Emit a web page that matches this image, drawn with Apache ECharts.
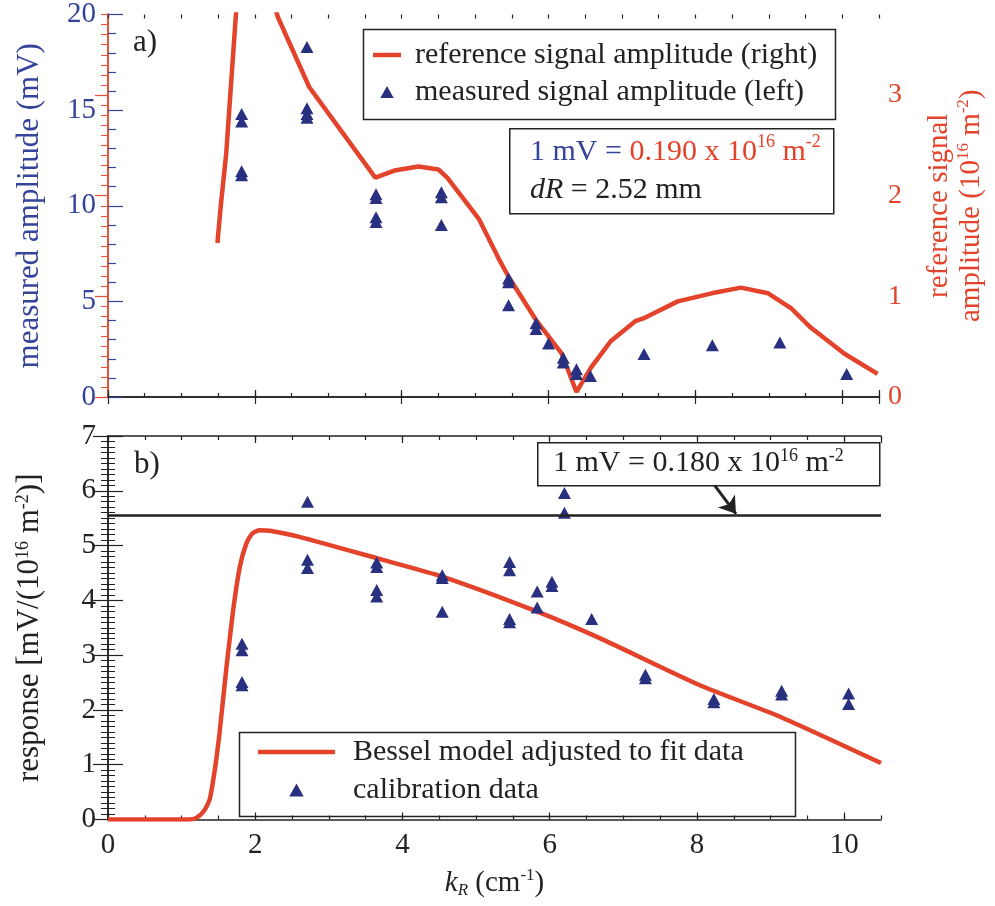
<!DOCTYPE html>
<html><head><meta charset="utf-8">
<script src="https://cdn.jsdelivr.net/npm/echarts@6/dist/echarts.min.js"></script>
<style>html,body{margin:0;padding:0;background:#fff}#c{width:995px;height:906px}</style>
</head><body><div id="c"></div>
<script>
// ---------- data ----------
// panel a) measured signal amplitude (mV, left axis)
const measuredK   = [1.82,1.82,1.82,1.82, 2.71,2.71,2.71,2.71, 3.65,3.65,3.65,3.65, 4.54,4.54,4.54, 5.455,5.455,5.455, 5.83,5.83, 6.0, 6.2,6.2, 6.38,6.38, 6.57, 7.3, 8.23, 9.15, 10.06];
const measuredAmp = [14.8,14.4,11.8,11.6, 18.3,15.1,14.8,14.6, 10.6,10.4,9.4,9.15, 10.7,10.45,9.0, 6.2,6.0,4.8, 3.85,3.55, 2.8, 2.05,1.8, 1.45,1.2, 1.1, 2.25, 2.7, 2.85, 1.2];
// panel a) reference signal amplitude (10^16 m^-2, right axis)
const refK   = [1.49,1.54,1.61,1.74,1.85,2.05,2.31,2.74,3.64,3.9,4.23,4.5,4.62,5.05,5.32,5.455,5.84,6.18,6.38,6.58,6.85,7.18,7.29,7.4,7.76,8.22,8.62,8.99,9.3,9.57,10.03,10.48];
const refAmp = [1.53,1.93,2.42,3.78,4.7,4.5,3.78,3.08,2.18,2.25,2.29,2.26,2.18,1.77,1.375,1.195,0.753,0.43,0.05,0.295,0.557,0.753,0.78,0.82,0.95,1.03,1.087,1.03,0.884,0.69,0.43,0.23];
// panel b) calibration data
const calK    = [1.82,1.82,1.82,1.82, 2.71,2.71,2.71, 3.65,3.65,3.65,3.65, 4.54,4.54,4.54, 5.455,5.455,5.455,5.455, 5.83,5.83, 6.03,6.03, 6.2,6.2, 6.57, 7.3,7.3, 8.23,8.23, 9.15,9.15, 10.06,10.06];
const calResp = [3.21,3.09,2.51,2.45, 5.8,4.74,4.59, 4.69,4.61,4.19,4.07, 4.46,4.41,3.79, 4.7,4.55,3.66,3.6, 4.16,3.87, 4.34,4.26, 5.96,5.6, 3.66, 2.64,2.58, 2.2,2.14, 2.35,2.28, 2.3,2.11];
// panel b) Bessel model
const besselK    = [0,1.1,1.2,1.3,1.38,1.45,1.515,1.61,1.70,1.79,1.88,1.96,2.06,2.2,2.6,3.65,4.55,5.84,6.68,8.04,9.12,10.5];
const besselResp = [0,0,0.03,0.15,0.36,0.9,1.58,2.79,3.82,4.61,5.04,5.22,5.28,5.27,5.16,4.77,4.43,3.79,3.31,2.45,1.88,1.03];
const calibLevel = 1 / 0.180;      // 1 mV = 0.180 x 10^16 m^-2
const arrowFrom = [8.24, 6.10];
const arrowTo   = [8.53, 5.58];
const xTicks = [0, 10.5];          // kR axis range
const leftTicks = [0, 20], rightTicks = [0, 3.8], respTicks = [0, 7];

// ---------- styling ----------
const FONT = 'Liberation Serif';
const RED = '#e2432a', NAVY = '#28307f', BLUE = '#34449a', RAXIS = '#e5533c', BLK = '#222';
const LINE_ICON = 'path://M0,0 H100 V16 H0 Z';
const TRI_ICON = 'path://M5,0 L10,9 L0,9 Z';
const zip = (a, b) => a.map((v, i) => [v, b[i]]);

function xAx(grid, pos, major, showLabel) {
  return {
    type: 'value', gridIndex: grid, position: pos, min: xTicks[0], max: xTicks[1],
    interval: major ? 2 : 0.5,
    axisLine: { show: major, lineStyle: { color: BLK, width: 1.5 } },
    axisTick: { show: true, inside: true, length: major ? 7 : 4, lineStyle: { color: BLK, width: 1.2 } },
    axisLabel: { show: !!showLabel, showMaxLabel: false, fontFamily: FONT, fontSize: 29, color: BLK, margin: 11 },
    splitLine: { show: false }
  };
}

const option = {
  animation: false,
  backgroundColor: '#fff',
  grid: [
    { left: 108, top: 10, width: 773, height: 387 },
    { left: 108, top: 436, width: 773, height: 383.5 }
  ],
  xAxis: [
    xAx(0, 'bottom', true), xAx(0, 'bottom', false), xAx(0, 'top', true), xAx(0, 'top', false),
    Object.assign(xAx(1, 'bottom', true, true), {
      name: '{i|k}{sub|R}{t| (cm}{sup|-1}{t|)}', nameLocation: 'middle', nameGap: 48,
      nameTextStyle: { fontFamily: FONT, fontSize: 29, color: BLK, rich: {
        i: { fontFamily: FONT, fontSize: 29, fontStyle: 'italic', lineHeight: 32 },
        sub: { fontFamily: FONT, fontSize: 17, fontStyle: 'italic', lineHeight: 12, verticalAlign: 'bottom' },
        t: { fontFamily: FONT, fontSize: 29, lineHeight: 32 },
        sup: { fontFamily: FONT, fontSize: 17, lineHeight: 14, verticalAlign: 'top' } } }
    }),
    xAx(1, 'bottom', false), xAx(1, 'top', true), xAx(1, 'top', false)
  ],
  yAxis: [
    { type: 'value', gridIndex: 0, position: 'left', min: leftTicks[0], max: leftTicks[1], interval: 5,
      axisLine: { show: true, lineStyle: { color: BLUE, width: 2 } },
      axisTick: { inside: true, length: 15, lineStyle: { color: BLUE, width: 1.2 } },
      minorTick: { show: true, splitNumber: 5, length: 8, lineStyle: { color: BLUE, width: 1.2 } },
      axisLabel: { fontFamily: FONT, fontSize: 29, color: BLUE, margin: 12 },
      splitLine: { show: false },
      name: 'measured amplitude (mV)', nameLocation: 'middle', nameRotate: 90, nameGap: 63,
      nameTextStyle: { fontFamily: FONT, fontSize: 31, color: BLUE } },
    { type: 'value', gridIndex: 0, position: 'right', min: rightTicks[0], max: rightTicks[1], interval: 1,
      axisLine: { show: true, lineStyle: { color: RAXIS, width: 2 } },
      axisTick: { inside: true, length: 13, lineStyle: { color: RAXIS, width: 1.2 } },
      axisLabel: { fontFamily: FONT, fontSize: 28, color: RED, margin: 9, showMaxLabel: false },
      splitLine: { show: false },
      name: 'reference signal\namplitude (10{sup|16} m{sup|-2})', nameLocation: 'middle', nameRotate: 90, nameGap: 44,
      nameTextStyle: { fontFamily: FONT, fontSize: 29, color: RED, lineHeight: 32, rich: {
        sup: { fontFamily: FONT, fontSize: 17, color: RED, lineHeight: 14, verticalAlign: 'top' } } } },
    { type: 'value', gridIndex: 0, position: 'right', min: rightTicks[0], max: rightTicks[1], interval: 0.1,
      axisLine: { show: false },
      axisTick: { inside: true, length: 7, lineStyle: { color: RAXIS, width: 1.1 } },
      axisLabel: { show: false }, splitLine: { show: false } },
    { type: 'value', gridIndex: 1, position: 'left', min: respTicks[0], max: respTicks[1], interval: 1,
      axisLine: { show: true, lineStyle: { color: BLK, width: 1.5 } },
      axisTick: { inside: true, length: 15, lineStyle: { color: BLK, width: 1.2 } },
      minorTick: { show: true, splitNumber: 10, length: 7, lineStyle: { color: BLK, width: 1 } },
      axisLabel: { fontFamily: FONT, fontSize: 29, color: BLK, margin: 12 },
      splitLine: { show: false },
      name: 'response [mV/(10{sup|16} m{sup|-2})]', nameLocation: 'middle', nameRotate: 90, nameGap: 63,
      nameTextStyle: { fontFamily: FONT, fontSize: 31, color: BLK, rich: {
        sup: { fontFamily: FONT, fontSize: 18, color: BLK, lineHeight: 14, verticalAlign: 'top' } } } },
    { type: 'value', gridIndex: 1, position: 'right', min: respTicks[0], max: respTicks[1], interval: 1,
      axisLine: { show: true, lineStyle: { color: BLK, width: 1.5 } },
      axisTick: { inside: true, length: 15, lineStyle: { color: BLK, width: 1.2 } },
      minorTick: { show: true, splitNumber: 10, length: 7, lineStyle: { color: BLK, width: 1 } },
      axisLabel: { show: false }, splitLine: { show: false } }
  ],
  legend: [
    { orient: 'vertical', left: 373, top: 40, itemWidth: 28, itemHeight: 12, itemGap: 7, padding: 0,
      selectedMode: false, symbolKeepAspect: true,
      textStyle: { fontFamily: FONT, fontSize: 30, lineHeight: 30, color: BLK, padding: [0, 0, 0, 9] },
      data: [{ name: 'reference signal amplitude (right)', icon: LINE_ICON },
             { name: 'measured signal amplitude (left)', icon: TRI_ICON }] },
    { orient: 'vertical', left: 258, top: 737, itemWidth: 77, itemHeight: 13, itemGap: 8, padding: 0,
      selectedMode: false, symbolKeepAspect: true,
      textStyle: { fontFamily: FONT, fontSize: 30, lineHeight: 30, color: BLK, padding: [0, 0, 0, 13] },
      data: [{ name: 'Bessel model adjusted to fit data', icon: 'path://M0,0 H100 V6 H0 Z' },
             { name: 'calibration data', icon: TRI_ICON }] }
  ],
  graphic: [
    { type: 'rect', left: 361, top: 27, z: 5, shape: { width: 472, height: 90 }, style: { fill: 'none', stroke: BLK, lineWidth: 1.5 } },
    { type: 'rect', left: 509, top: 128, z: 5, shape: { width: 324, height: 85 }, style: { fill: '#fff', stroke: BLK, lineWidth: 1.5 } },
    { type: 'text', left: 530, top: 133, z: 6, style: {
        text: '{b|1 mV = }{r|0.190 x 10}{rs|16}{r| m}{rs|-2}\n{i|dR}{k| = 2.52 mm}',
        rich: {
          b: { fontFamily: FONT, fontSize: 30, fill: BLUE, lineHeight: 38 },
          r: { fontFamily: FONT, fontSize: 30, fill: RED, lineHeight: 38 },
          rs: { fontFamily: FONT, fontSize: 18, fill: RED, lineHeight: 22, verticalAlign: 'top' },
          i: { fontFamily: FONT, fontSize: 30, fontStyle: 'italic', fill: BLK, lineHeight: 38 },
          k: { fontFamily: FONT, fontSize: 30, fill: BLK, lineHeight: 38 }
        } } },
    { type: 'rect', left: 237, top: 730, z: 5, shape: { width: 556, height: 84 }, style: { fill: 'none', stroke: BLK, lineWidth: 1.5 } },
    { type: 'rect', left: 537, top: 442, z: 5, shape: { width: 342, height: 43 }, style: { fill: '#fff', stroke: BLK, lineWidth: 1.5 } },
    { type: 'text', left: 553, top: 447, z: 6, style: {
        text: '{t|1 mV = 0.180 x 10}{s|16}{t| m}{s|-2}',
        rich: {
          t: { fontFamily: FONT, fontSize: 30, fill: BLK, lineHeight: 32 },
          s: { fontFamily: FONT, fontSize: 18, fill: BLK, lineHeight: 20, verticalAlign: 'top' }
        } } },
    { type: 'text', left: 133, top: 27, z: 6, style: { text: 'a)', fontFamily: FONT, fontSize: 31, fill: BLK } },
    { type: 'text', left: 134, top: 449, z: 6, style: { text: 'b)', fontFamily: FONT, fontSize: 31, fill: BLK } }
  ],
  series: [
    { name: 'reference signal amplitude (right)', type: 'line', xAxisIndex: 0, yAxisIndex: 1,
      data: zip(refK, refAmp), symbol: 'none', clip: true, z: 3,
      lineStyle: { color: RED, width: 4.5 }, itemStyle: { color: RED } },
    { name: 'measured signal amplitude (left)', type: 'scatter', xAxisIndex: 0, yAxisIndex: 0,
      data: zip(measuredK, measuredAmp), symbol: 'triangle', symbolSize: [13, 12], z: 4,
      itemStyle: { color: NAVY, opacity: 1 } },
    { name: 'Bessel model adjusted to fit data', type: 'line', xAxisIndex: 4, yAxisIndex: 3,
      data: zip(besselK, besselResp), symbol: 'none', clip: true, z: 3, smooth: 0.2,
      lineStyle: { color: RED, width: 4.5 }, itemStyle: { color: RED },
      markLine: { silent: true, animation: false, symbol: ['none', 'arrow'], symbolSize: 16,
        label: { show: false }, lineStyle: { color: BLK, width: 3, type: 'solid' },
        data: [[{ coord: arrowFrom }, { coord: arrowTo }]] } },
    { name: 'calibration data', type: 'scatter', xAxisIndex: 4, yAxisIndex: 3,
      data: zip(calK, calResp), symbol: 'triangle', symbolSize: [13, 12], z: 4,
      itemStyle: { color: NAVY, opacity: 1 },
      markLine: { silent: true, animation: false, symbol: 'none',
        label: { show: false }, lineStyle: { color: BLK, width: 2.5, type: 'solid' },
        data: [{ yAxis: calibLevel }] } }
  ]
};
echarts.init(document.getElementById('c'), null, { renderer: 'canvas' }).setOption(option);
</script></body></html>
